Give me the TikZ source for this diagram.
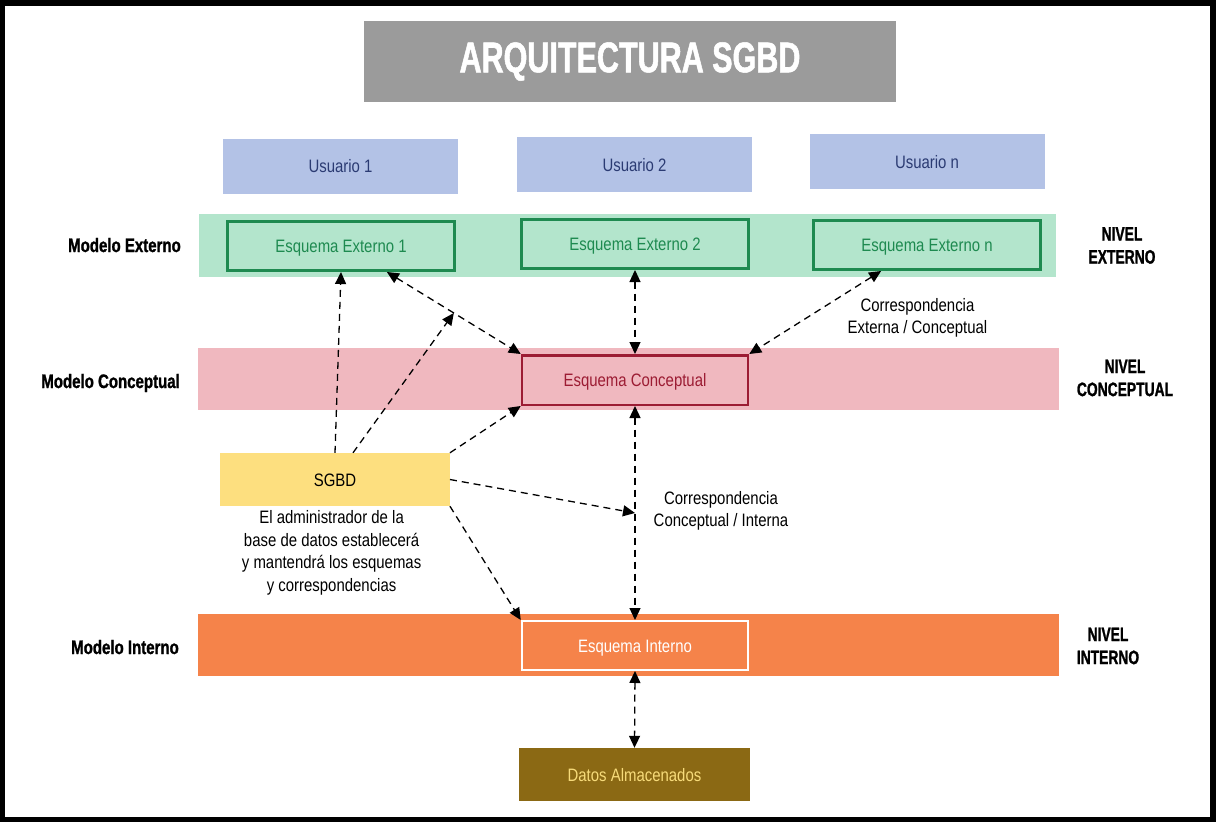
\documentclass[tikz,border=0pt]{standalone}
\usepackage{fontspec}
\setmainfont[FakeStretch=0.83]{Liberation Sans}
\newfontfamily\heavyfont[FakeStretch=0.77,FakeBold=1.2]{Liberation Sans Bold}
\newfontfamily\capsfont[FakeStretch=0.71,FakeBold=1.2]{Liberation Sans Bold}
\usepackage{tikz}
\usepackage{xcolor}
\usetikzlibrary{calc,arrows.meta}
\definecolor{titlegray}{HTML}{9B9B9B}
\definecolor{userblue}{HTML}{B3C2E6}
\definecolor{usertext}{HTML}{2B3B73}
\definecolor{extband}{HTML}{B3E5CC}
\definecolor{extgreen}{HTML}{1E8A50}
\definecolor{concband}{HTML}{F0B8BF}
\definecolor{concred}{HTML}{9C1C33}
\definecolor{intorange}{HTML}{F5834A}
\definecolor{sgbdyellow}{HTML}{FDDF7F}
\definecolor{datosbrown}{HTML}{8B6914}
\definecolor{datostext}{HTML}{F7DB7A}
\tikzstyle{band} = [
    rectangle,
    minimum width=861pt,
    minimum height=62pt,
    inner sep=0pt
    ]
\tikzstyle{plainbox} = [
    rectangle,
    minimum width=231pt,
    minimum height=53pt,
    inner sep=0pt,
    text height=13pt,
    text depth=0pt,
    font=\fontsize{18}{22}\selectfont
    ]
\tikzstyle{userbox} = [
    plainbox,
    fill=userblue,
    text=usertext,
    minimum width=235pt,
    minimum height=55pt
    ]
\tikzstyle{schemabox} = [
    plainbox,
    draw,
    minimum width=226.5pt,
    minimum height=49pt
    ]
\tikzstyle{modellabel} = [
    anchor=east,
    inner sep=0pt,
    text height=14pt,
    text depth=0pt,
    font=\heavyfont\fontsize{19.5}{23}\selectfont
    ]
\tikzstyle{levellabel} = [
    align=center,
    inner sep=0pt,
    font=\capsfont\fontsize{19.5}{23}\selectfont
    ]
\tikzstyle{note} = [
    align=center,
    inner sep=0pt,
    font=\fontsize{18}{22.5}\selectfont
    ]
\tikzstyle{corr} = [
    line width=1.3pt,
    dash pattern=on 7pt off 5pt,
    -{Triangle[length=12pt,width=11pt]}
    ]
\tikzstyle{corrboth} = [
    corr,
    {Triangle[length=12pt,width=11pt]}-{Triangle[length=12pt,width=11pt]}
    ]

\begin{document}
\begin{tikzpicture}[x=1pt,y=-1pt]
% frame
\fill[black] (0,0) rectangle (1216,822);
\fill[white] (5,6) rectangle (1210,817);

\node[rectangle, fill=titlegray, text=white, minimum width=532pt, minimum height=81pt,
    font=\capsfont\fontsize{43}{50}\selectfont] (title) at (630,61.5) {ARQUITECTURA SGBD};

% levels
\node[band, fill=extband, minimum width=857pt, minimum height=63pt] (extlevel) at (627.5,245.5) {};
\node[band, fill=concband] (conclevel) at (628.5,379) {};
\node[band, fill=intorange] (intlevel) at (628.5,645) {};

\node[userbox] (user1) at (340.5,166) {Usuario 1};
\node[userbox] (user2) at (634.5,164.5) {Usuario 2};
\node[userbox] (usern) at (927,161.5) {Usuario n};

\node[schemabox, draw=extgreen, fill=extband, text=extgreen, line width=3pt] (ext1) at (341,246) {Esquema Externo 1};
\node[schemabox, draw=extgreen, fill=extband, text=extgreen, line width=3pt] (ext2) at (635,244) {Esquema Externo 2};
\node[schemabox, draw=extgreen, fill=extband, text=extgreen, line width=3pt] (extn) at (927,245) {Esquema Externo n};
\node[schemabox, draw=concred, fill=concband, text=concred, line width=2.5pt, minimum width=226pt, minimum height=49.5pt] (conc) at (635,380) {Esquema Conceptual};
\node[schemabox, draw=white, fill=intorange, text=white, line width=2pt, minimum height=49pt] (intern) at (635,645.5) {Esquema Interno};
\node[plainbox, fill=datosbrown, text=datostext] (datos) at (634.5,774.5) {Datos Almacenados};
\node[plainbox, fill=sgbdyellow, minimum width=229.5pt] (sgbd) at (335,479.5) {SGBD};

\node[modellabel] (modext) at (181,245) {Modelo Externo};
\node[modellabel] (modconc) at (180,381) {Modelo Conceptual};
\node[modellabel] (modint) at (179,647) {Modelo Interno};
\node[levellabel] (nivext) at (1122,245.5) {NIVEL\\EXTERNO};
\node[levellabel] (nivconc) at (1125,378) {NIVEL\\CONCEPTUAL};
\node[levellabel] (nivint) at (1108,646) {NIVEL\\INTERNO};

\node[note] (corrext) at (917.5,318) {Correspondencia\\Externa / Conceptual};
\node[note] (corrint) at (721,511) {Correspondencia\\Conceptual / Interna};
\node[note] (sgbdnote) at (331.6,553) {El administrador de la\\base de datos establecerá\\y mantendrá los esquemas\\y correspondencias};

% correspondences
\coordinate (ext1foot) at ($(ext1.south west)!0.7!(ext1.south east)$);
\coordinate (extnfoot) at ($(extn.south west)!0.3!(extn.south east)$);
\draw[corrboth] (ext1foot) -- coordinate (mid1) (conc.north west);
\draw[corrboth] (ext2.south) -- (conc.north);
\draw[corrboth] (extnfoot) -- (conc.north east);
\draw[corrboth] (conc.south) -- coordinate (mid2) (intern.north);
\draw[corrboth] (intern.south) -- (datos.north);

\draw[corr] (sgbd.north) -- (ext1.south);
\draw[corr] ($(sgbd.north)+(18,0)$) -- (mid1);
\draw[corr] (sgbd.north east) -- (conc.south west);
\draw[corr] (sgbd.east) -- (mid2);
\draw[corr] (sgbd.south east) -- (intern.north west);
\end{tikzpicture}
\end{document}
